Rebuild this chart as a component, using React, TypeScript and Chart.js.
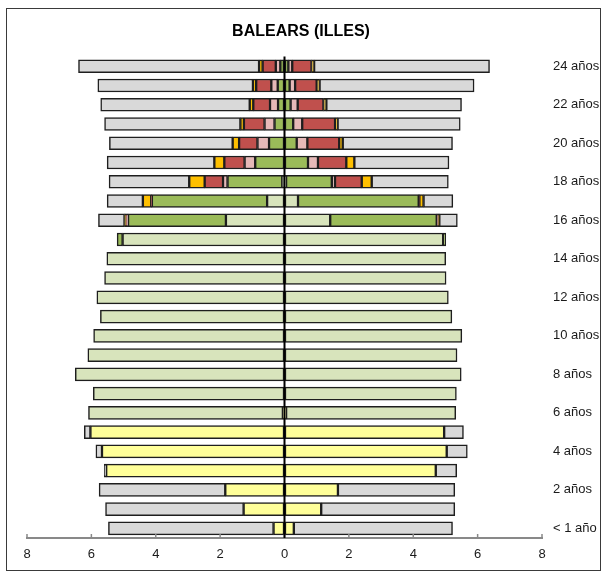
import React, { useEffect, useRef } from 'react';
import { Chart, registerables } from 'chart.js';

Chart.register(...registerables);

const ages = [
  '< 1 año', '1 año', '2 años', '3 años', '4 años', '5 años', '6 años', '7 años', '8 años',
  '9 años', '10 años', '11 años', '12 años', '13 años', '14 años', '15 años', '16 años',
  '17 años', '18 años', '19 años', '20 años', '21 años', '22 años', '23 años', '24 años',
];

const titleText = 'BALEARS (ILLES)';
const xTicks = [-8, -6, -4, -2, 0, 2, 4, 6, 8];

// Left side (drawn to the negative side)
const yellowL = [0.34, 1.27, 1.84, 5.54, 5.67, 6.03, 0.05, 0, 0, 0, 0, 0, 0, 0, 0, 0, 0, 0, 0, 0, 0, 0, 0, 0, 0];
const lightGreenL = [0, 0, 0, 0, 0, 0, 6.04, 5.94, 6.5, 6.11, 5.93, 5.72, 5.83, 5.59, 5.52, 5.03, 1.82, 0.54, 0.07, 0, 0, 0, 0, 0, 0];
const greenL = [0, 0, 0, 0, 0, 0, 0, 0, 0, 0, 0, 0, 0, 0, 0, 0.17, 3.04, 3.58, 1.7, 0.91, 0.48, 0.31, 0.2, 0.21, 0.13];
const pinkL = [0, 0, 0, 0, 0, 0, 0, 0, 0, 0, 0, 0, 0, 0, 0, 0, 0.03, 0, 0.14, 0.33, 0.36, 0.31, 0.25, 0.2, 0.14];
const redL = [0, 0, 0, 0, 0, 0, 0, 0, 0, 0, 0, 0, 0, 0, 0, 0, 0.04, 0.02, 0.57, 0.63, 0.57, 0.64, 0.52, 0.47, 0.41];
const orangeL = [0, 0, 0, 0, 0, 0, 0, 0, 0, 0, 0, 0, 0, 0, 0, 0, 0.04, 0.26, 0.48, 0.31, 0.2, 0.11, 0.11, 0.1, 0.11];
const grayL = [5.13, 4.29, 3.92, 0.06, 0.19, 0.19, 0, 0, 0, 0, 0, 0, 0, 0, 0, 0, 0.81, 1.11, 2.49, 3.33, 3.83, 4.22, 4.63, 4.82, 5.61];

// Right side
const yellowR = [0.29, 1.14, 1.66, 4.7, 5.04, 4.96, 0.05, 0, 0, 0, 0, 0, 0, 0, 0, 0, 0, 0, 0, 0, 0, 0, 0, 0, 0];
const lightGreenR = [0, 0, 0, 0, 0, 0, 5.27, 5.34, 5.49, 5.36, 5.51, 5.2, 5.09, 5.02, 5.01, 4.93, 1.42, 0.42, 0.05, 0, 0, 0, 0, 0, 0];
const greenR = [0, 0, 0, 0, 0, 0, 0, 0, 0, 0, 0, 0, 0, 0, 0, 0.08, 3.31, 3.75, 1.42, 0.73, 0.38, 0.27, 0.19, 0.16, 0.12];
const pinkR = [0, 0, 0, 0, 0, 0, 0, 0, 0, 0, 0, 0, 0, 0, 0, 0, 0.02, 0, 0.1, 0.31, 0.33, 0.28, 0.22, 0.17, 0.12];
const redR = [0, 0, 0, 0, 0, 0, 0, 0, 0, 0, 0, 0, 0, 0, 0, 0, 0.03, 0.02, 0.83, 0.88, 0.99, 1.02, 0.8, 0.67, 0.6];
const orangeR = [0, 0, 0, 0, 0, 0, 0, 0, 0, 0, 0, 0, 0, 0, 0, 0, 0.03, 0.13, 0.31, 0.25, 0.11, 0.08, 0.09, 0.09, 0.08];
const grayR = [4.93, 4.15, 3.63, 0.65, 0.64, 0.6, 0, 0, 0, 0, 0, 0, 0, 0, 0, 0, 0.56, 0.91, 2.38, 2.94, 3.41, 3.81, 4.2, 4.8, 5.45];

const levelColors = ['#ffff99', '#d8e4bc', '#9bbb59', '#e6b9b8', '#c0504d', '#ffc000', '#d9d9d9'];
const leftSeries = [yellowL, lightGreenL, greenL, pinkL, redL, orangeL, grayL];
const rightSeries = [yellowR, lightGreenR, greenR, pinkR, redR, orangeR, grayR];

const FONT = "Arial, 'Liberation Sans', sans-serif";

export default function App() {
  const ref = useRef<HTMLCanvasElement>(null);

  useEffect(() => {
    if (!ref.current) return;

    const mk = (arr: number[], sign: number, color: string, i: number, side: string) => ({
      label: side + i,
      data: arr.map((v) => (v === 0 ? null : sign * v)),
      backgroundColor: color,
      borderColor: '#1e1e1e',
      borderWidth: 1.5,
      borderSkipped: false,
      barThickness: 13,
      stack: 'pyr',
    });

    const datasets: any[] = [];
    leftSeries.forEach((arr, i) => datasets.push(mk(arr, -1, levelColors[i], i, 'L')));
    rightSeries.forEach((arr, i) => datasets.push(mk(arr, 1, levelColors[i], i, 'R')));

    const overlay = {
      id: 'overlay',
      afterDatasetsDraw(chart: any) {
        const { ctx, chartArea, scales } = chart;
        ctx.save();
        ctx.strokeStyle = '#898989';
        ctx.lineWidth = 1.5;
        xTicks.forEach((t) => {
          const px = scales.x.getPixelForValue(t);
          ctx.beginPath();
          ctx.moveTo(px, chartArea.bottom - 4);
          ctx.lineTo(px, chartArea.bottom);
          ctx.stroke();
        });
        const x0 = scales.x.getPixelForValue(0);
        ctx.strokeStyle = '#000';
        ctx.lineWidth = 2;
        ctx.beginPath();
        ctx.moveTo(x0, chartArea.top);
        ctx.lineTo(x0, chartArea.bottom);
        ctx.stroke();
        ctx.restore();
      },
      afterDraw(chart: any) {
        const { ctx } = chart;
        ctx.save();
        ctx.fillStyle = '#000';
        ctx.font = `bold 16px ${FONT}`;
        ctx.textAlign = 'center';
        ctx.textBaseline = 'middle';
        ctx.fillText(titleText, 301, 32);
        ctx.restore();
      },
    };

    const chart = new Chart(ref.current, {
      type: 'bar',
      data: { labels: ages, datasets },
      options: {
        indexAxis: 'y',
        responsive: false,
        animation: false,
        layout: { padding: { left: 27, right: 0, top: 56.6, bottom: 4.4 } },
        plugins: {
          legend: { display: false },
          tooltip: { enabled: false },
          title: { display: false, text: titleText },
        },
        scales: {
          x: {
            type: 'linear',
            stacked: true,
            min: -8,
            max: 8,
            afterBuildTicks: (scale: any) => {
              scale.ticks = xTicks.map((v) => ({ value: v }));
            },
            ticks: {
              callback: (v: any) => String(Math.abs(Number(v))),
              color: '#1a1a1a',
              font: { family: FONT, size: 13 },
              padding: 9,
              maxRotation: 0,
            },
            grid: { display: true, color: 'transparent', drawTicks: false },
            border: { display: true, color: '#898989', width: 2 },
          },
          y: {
            type: 'category',
            position: 'right',
            stacked: true,
            reverse: true,
            grid: { display: false, drawTicks: false },
            border: { display: false },
            afterFit: (scale: any) => {
              scale.width = 64;
            },
            ticks: {
              autoSkip: false,
              padding: 11,
              color: '#1a1a1a',
              font: { family: FONT, size: 13 },
              callback: (val: any) => (Number(val) % 2 === 0 ? ages[Number(val)] : ''),
            },
          },
        },
      },
      plugins: [overlay],
    } as any);

    return () => chart.destroy();
  }, []);

  return (
    <div style={{ position: 'absolute', left: 0, top: 0, width: 606, height: 576, background: '#fff' }}>
      <div
        style={{
          position: 'absolute',
          left: 6,
          top: 8,
          width: 595,
          height: 563,
          border: '1px solid #3a3a3a',
          boxSizing: 'border-box',
        }}
      />
      <canvas
        ref={ref}
        width={606}
        height={576}
        style={{ position: 'absolute', left: 0, top: 0, width: 606, height: 576 }}
      />
    </div>
  );
}
